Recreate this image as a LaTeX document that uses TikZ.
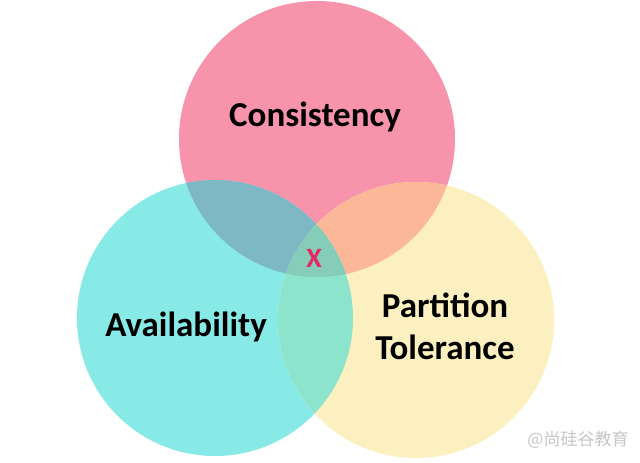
\documentclass[tikz,border=0pt]{standalone}
\usepackage{fontspec}
\setmainfont{Carlito}
\newfontfamily\cjkfont{Noto Sans CJK SC}
\usetikzlibrary{positioning}

\definecolor{consPink}{RGB}{247,147,170}
\definecolor{availCyan}{RGB}{135,234,230}
\definecolor{partYellow}{RGB}{253,240,192}
\definecolor{consAvail}{RGB}{126,184,196}
\definecolor{consPart}{RGB}{250,184,152}
\definecolor{availPart}{RGB}{140,228,205}
\definecolor{allThree}{RGB}{133,205,185}
\definecolor{clashRed}{RGB}{232,38,100}

\begin{document}
\begin{tikzpicture}[
    x=1pt, y=-1pt,
    set/.style={circle, minimum size=276pt, inner sep=0pt, outer sep=0pt},
    title/.style={font=\fontsize{35}{42}\selectfont\bfseries, align=center, text=black},
    clash/.style={font=\fontsize{28}{28}\selectfont\bfseries, text=clashRed},
    watermark/.style={font=\cjkfont\fontsize{17}{17}\selectfont, text=gray!45}
]
    \fill[white] (0,0) rectangle (640,463);
    \useasboundingbox (0,0) rectangle (640,463);

    % Sets
    \node[set, fill=consPink] (cons) at (317,139) {};
    \node[set, fill=availCyan] (avail) at (215,318) {};
    \node[set, fill=partYellow] (part) at (416,320) {};

    % Overlaps
    \begin{scope}
        \clip (cons.center) circle (138);
        \fill[consAvail] (avail.center) circle (138);
        \fill[consPart] (part.center) circle (138);
    \end{scope}
    \begin{scope}
        \clip (avail.center) circle (138);
        \fill[availPart] (part.center) circle (138);
        \clip (cons.center) circle (138);
        \fill[allThree] (part.center) circle (138);
    \end{scope}

    % Labels
    \node[title] (consText) at (315,117) {Consistency};
    \node[title] (availText) at (186,327) {Availability};
    \node[title] (partText) at (445,326) {Partition\\Tolerance};
    \node[clash] (clashText) at (314,258) {X};
    \node[watermark] (markText) at (578,440) {@尚硅谷教育};
\end{tikzpicture}
\end{document}
